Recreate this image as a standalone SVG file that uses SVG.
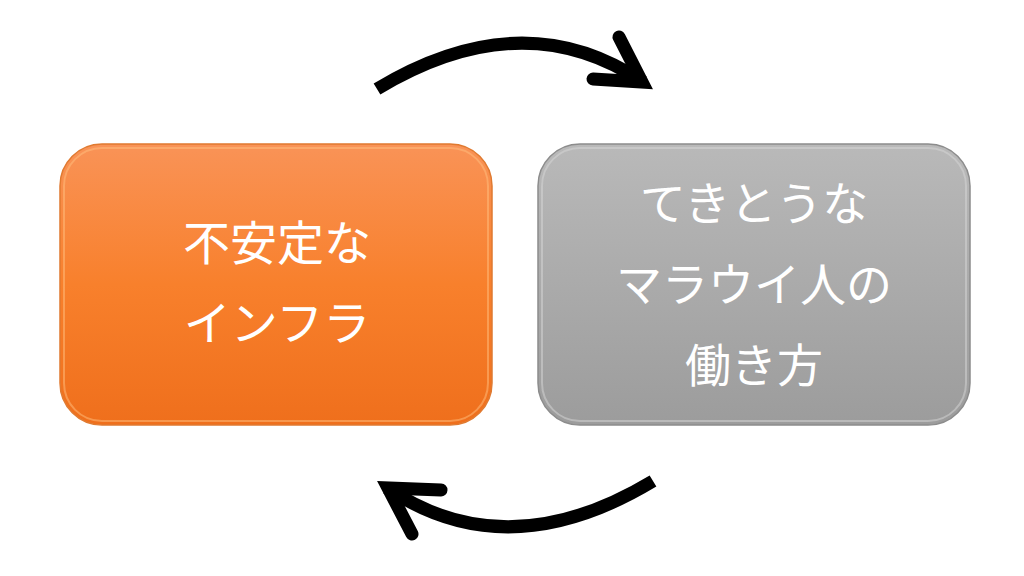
<svg xmlns="http://www.w3.org/2000/svg" width="1024" height="576" viewBox="0 0 1024 576">
  <defs>
    <linearGradient id="gOrange" x1="0" y1="0" x2="0" y2="1">
      <stop offset="0" stop-color="#F99357"/>
      <stop offset="0.5" stop-color="#F8802C"/>
      <stop offset="1" stop-color="#EF6F1C"/>
    </linearGradient>
    <linearGradient id="gGray" x1="0" y1="0" x2="0" y2="1">
      <stop offset="0" stop-color="#B9B9B9"/>
      <stop offset="1" stop-color="#9C9C9C"/>
    </linearGradient>
    <style>
      .label { font-family: "Noto Sans CJK JP", "Noto Sans", sans-serif; font-size: 46px; fill: #FFFFFF; text-anchor: middle; }
      .big { font-size: 47px; }
      .curve { fill: none; stroke: #000000; stroke-width: 13; stroke-linecap: butt; }
      .head { fill: none; stroke: #000000; stroke-width: 13; stroke-linecap: round; stroke-linejoin: miter; stroke-miterlimit: 10; }
    </style>
  </defs>
  <rect x="0" y="0" width="1024" height="576" fill="#FFFFFF"/>

  <g id="node-unstable-infra">
    <rect x="60" y="144" width="432" height="281" rx="42" ry="42" fill="url(#gOrange)" stroke="#E07A30" stroke-width="1.5"/>
    <rect x="64" y="148" width="424" height="273" rx="38" ry="38" fill="none" stroke="#FFC080" stroke-width="2" opacity="0.5"/>
    <text class="label big" x="277" y="260">不安定な</text>
    <text class="label big" x="277" y="340">インフラ</text>
  </g>

  <g id="node-malawi-work">
    <rect x="538" y="144" width="432" height="281" rx="42" ry="42" fill="url(#gGray)" stroke="#8C8C8C" stroke-width="1.5"/>
    <rect x="542" y="148" width="424" height="273" rx="38" ry="38" fill="none" stroke="#D8D8D8" stroke-width="2" opacity="0.5"/>
    <text class="label" x="754" y="220">てきとうな</text>
    <text class="label" x="754" y="301">マラウイ人の</text>
    <text class="label" x="754" y="382">働き方</text>
  </g>

  <g id="connectors">
    <g id="arrow-top">
      <path class="curve" d="M377,89 Q523,1 643,82"/>
      <polyline class="head" points="619,37 642,82 593,79"/>
    </g>
    <g id="arrow-bottom">
      <path class="curve" d="M653,481 Q507,569 387,488"/>
      <polyline class="head" points="412,534 388,488 441,490"/>
    </g>
  </g>
</svg>
